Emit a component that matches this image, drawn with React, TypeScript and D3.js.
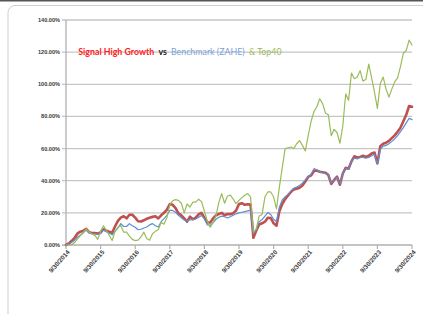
import React, { useEffect, useRef } from 'react';
import * as d3 from 'd3';

// monthly returns (cumulative %), 9/30/2014 -> 9/30/2024
const signalHighGrowth = [
  0, 1, 2.6, 4.5, 7.2, 8.3, 8.8, 10, 8, 7.4,
  7.4, 7.2, 7.8, 9.8, 8.8, 8.2, 7.6, 11.5, 15, 17,
  17.9, 16.6, 18.8, 18.8, 17, 14.8, 14.6, 15.4, 16.3, 17,
  17.5, 17.9, 16.5, 18.5, 20, 22, 25.5, 25, 23, 19.7,
  18.5, 16.5, 14.5, 17.6, 16, 17, 19, 20, 17, 14,
  14, 16.5, 18.5, 19.3, 20, 18.5, 19.3, 19.2, 19.8, 21.5,
  25.5, 26, 25, 25.3, 25.2, 4.5, 9, 12.8, 13.5, 14.5,
  17, 16.8, 13.5, 12, 21, 25.5, 28.5, 30.8, 33, 34.6,
  35, 35.6, 37, 39.5, 42.4, 43.3, 46, 46.3, 45.6, 45.3,
  45, 43.5, 38, 40.5, 42.5, 37.5, 44.5, 48, 47.5, 52,
  55.2, 54.5, 54.8, 55.5, 54.8, 55.5, 57, 57.5, 50.8, 61.5,
  63, 63.6, 64.8, 66.5, 68.2, 70.5, 73, 77, 81, 86.5, 86,
];

const benchmarkZahe = [
  0, 0.5, 1.7, 3, 4.8, 6.2, 7.5, 9.5, 7.5, 7,
  7, 6.6, 7, 9.5, 8.3, 7.5, 6.3, 8.5, 10.5, 13.3,
  11.5, 11.5, 13.3, 12, 11, 9.5, 9.8, 10.6, 11.2, 12.5,
  13.3, 12, 11.2, 14.5, 16.4, 18.5, 21.5, 21.5, 20.4, 18.5,
  17, 15.5, 15.2, 15.6, 15.8, 16.2, 17.3, 18.3, 16.5, 12.5,
  12.2, 13.8, 16, 17.3, 18, 17.6, 16.8, 17.6, 18.5, 19.4,
  20, 20.4, 20.8, 21.2, 21.5, 7, 9.5, 14.5, 15.8, 18,
  20.2, 19, 16, 14.5, 23.5, 28, 30, 31.5, 33.5, 35.3,
  36, 37, 38.5, 40.5, 42.5, 44, 47.5, 46.8, 45.6, 45,
  44.5, 44, 38.5, 40.5, 42, 38, 44.5, 47.5, 47, 52,
  54, 53.5, 54.5, 54.5, 54, 54.5, 55.5, 56.5, 50.5, 59.5,
  61.5, 62, 63, 64.5, 66, 68, 70.5, 73, 76, 78.8, 78,
];

const top40 = [
  0, 0, 0.2, 1.5, 3.8, 5.9, 8, 10, 8, 7,
  6, 3.5, 8.5, 12, 9, 6, 2.8, 8.5, 11, 12.2,
  8, 8, 5.5, 3.5, 2.7, 3, 5, 8, 4, 3,
  7, 8.5, 9.5, 14, 13, 17, 25, 27.5, 28.2, 27.8,
  26, 20, 25.5, 23.6, 26.7, 26.7, 28.5, 27, 21, 15,
  11, 14, 18, 26.5, 32, 26, 30.5, 31, 28.5, 25.7,
  27.8, 29.5, 31, 32, 29.9, 8, 10, 18, 19, 30,
  33, 33, 30, 22.5, 36, 48, 60, 60.5, 61, 60,
  63, 65, 62, 58.5, 68, 77, 83, 86, 91, 88,
  82, 81, 68, 72, 70, 63.3, 74, 94, 90, 107,
  103.5, 104.5, 108.5, 102, 103, 112.5, 104, 95, 85, 100.5,
  104.5, 97, 92, 97, 101.5, 104, 111, 119.3, 121, 127.5, 124.4,
];

const xTickLabels = [
  '9/30/2014', '9/30/2015', '9/30/2016', '9/30/2017', '9/30/2018', '9/30/2019',
  '9/30/2020', '9/30/2021', '9/30/2022', '9/30/2023', '9/30/2024',
];
const yTicks = [0, 20, 40, 60, 80, 100, 120, 140];

const seriesList = [
  { name: 'Signal High Growth', values: signalHighGrowth, color: '#c0504d', width: 2.6 },
  { name: 'Benchmark (ZAHE)', values: benchmarkZahe, color: '#5b8ed4', width: 1.2 },
  { name: 'Top40', values: top40, color: '#9bbb59', width: 1.2 },
];

const App: React.FC = () => {
  const svgRef = useRef<SVGSVGElement>(null);

  useEffect(() => {
    if (!svgRef.current) return;
    const width = 423;
    const height = 314;
    const m = { left: 66, right: 11, top: 20, bottom: 69 };

    const svg = d3.select(svgRef.current);
    svg.selectAll('*').remove();

    // frame
    svg.append('rect').attr('width', width).attr('height', height).attr('fill', '#fff');
    svg.append('rect')
      .attr('x', 8).attr('y', 5.5).attr('width', 430).attr('height', 330)
      .attr('rx', 7).attr('fill', '#fff')
      .attr('stroke', '#cfcfcf').attr('stroke-width', 1);
    svg.append('rect').attr('x', 0).attr('y', 0).attr('width', width).attr('height', 1.5).attr('fill', '#555');

    const x = d3.scaleLinear()
      .domain([0, signalHighGrowth.length - 1])
      .range([m.left, width - m.right]);
    const y = d3.scaleLinear().domain([0, 140]).range([height - m.bottom, m.top]);

    const g = svg.append('g');

    // gridlines
    g.selectAll('line.grid')
      .data(yTicks.filter(t => t > 0))
      .enter().append('line')
      .attr('class', 'grid')
      .attr('x1', m.left - 4).attr('x2', width - m.right)
      .attr('y1', d => y(d)).attr('y2', d => y(d))
      .attr('stroke', '#c6c6c6').attr('stroke-width', 1.3);

    // axes
    g.append('line')
      .attr('x1', m.left).attr('x2', m.left)
      .attr('y1', m.top).attr('y2', y(0))
      .attr('stroke', '#b0b0b0').attr('stroke-width', 1.3);
    g.append('line')
      .attr('x1', m.left - 4).attr('x2', width - m.right)
      .attr('y1', y(0)).attr('y2', y(0))
      .attr('stroke', '#b0b0b0').attr('stroke-width', 1.3);

    g.selectAll('text.ylab')
      .data(yTicks)
      .enter().append('text')
      .attr('class', 'ylab')
      .attr('x', m.left - 6).attr('y', d => y(d))
      .attr('dy', '0.35em')
      .attr('text-anchor', 'end')
      .style('font-family', "'Liberation Sans', Arial, sans-serif")
      .style('font-size', '5.6px')
      .style('font-weight', 'bold')
      .style('fill', '#3a3a3a')
      .text(d => `${d.toFixed(2)}%`);

    // x ticks + labels, one per year
    xTickLabels.forEach((label, i) => {
      const tx = x(i * 12);
      g.append('line')
        .attr('x1', tx).attr('x2', tx)
        .attr('y1', y(0)).attr('y2', y(0) + 4)
        .attr('stroke', '#b0b0b0').attr('stroke-width', 1.2);
      g.append('text')
        .attr('transform', `translate(${tx + 2.5},${y(0) + 6}) rotate(-48)`)
        .attr('text-anchor', 'end')
        .attr('dy', '0.35em')
        .style('font-family', "'Liberation Sans', Arial, sans-serif")
        .style('font-size', '6.3px')
        .style('font-weight', 'bold')
        .style('fill', '#3a3a3a')
        .text(label);
    });

    // lines
    const line = d3.line<number>()
      .x((_, i) => x(i))
      .y(d => y(d));

    seriesList.forEach(s => {
      g.append('path')
        .datum(s.values)
        .attr('fill', 'none')
        .attr('stroke', s.color)
        .attr('stroke-width', s.width)
        .attr('stroke-linejoin', 'round')
        .attr('stroke-linecap', 'round')
        .attr('d', line);
    });

    // title, each part placed where it sits in the original
    const title = svg.append('text')
      .attr('y', 55.3)
      .style('font-family', 'Lato, sans-serif')
      .style('font-size', '8.8px');
    const titleParts = [
      { text: 'Signal High Growth', x: 78.3, color: '#ff2020', weight: 'bold' },
      { text: 'vs', x: 158.5, color: '#222', weight: 'bold' },
      { text: 'Benchmark (ZAHE)', x: 171, color: '#7aa3dc', weight: 'normal' },
      { text: '& Top40', x: 249, color: '#9bbb59', weight: 'normal' },
    ];
    titleParts.forEach(p => {
      title.append('tspan')
        .attr('x', p.x)
        .style('font-weight', p.weight)
        .style('fill', p.color)
        .text(p.text);
    });
  }, []);

  return (
    <div style={{ position: 'absolute', left: 0, top: 0, width: 423, height: 314, overflow: 'hidden' }}>
      <svg ref={svgRef} width={423} height={314} style={{ display: 'block' }} />
    </div>
  );
};

export default App;
